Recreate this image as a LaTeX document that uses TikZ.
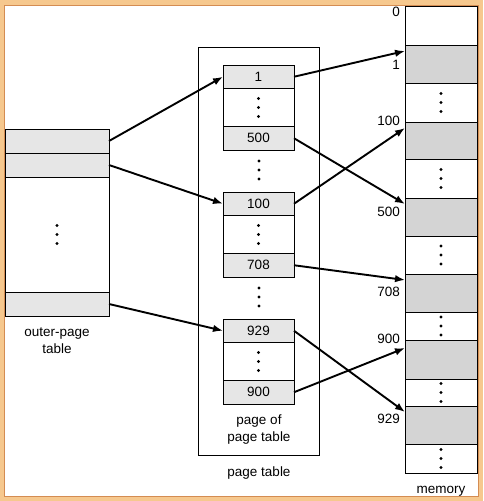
\documentclass[tikz,border=0pt]{standalone}
\usepackage{fontspec}
\setmainfont{Liberation Sans}
\usetikzlibrary{positioning,arrows.meta}
\definecolor{framelight}{RGB}{246,200,142}
\definecolor{framedark}{RGB}{212,140,82}
\definecolor{entrygray}{RGB}{230,230,230}
\definecolor{memgray}{RGB}{212,212,212}
\newcommand{\threedots}[1]{\fill (#1) circle (1.6pt) ++(0,-9pt) circle (1.6pt) ++(0,18pt) circle (1.6pt);}

\begin{document}
\begin{tikzpicture}[x=1pt, y=-1pt, font=\fontsize{13.5}{17}\selectfont,
    box/.style={draw, line width=1pt, inner sep=0pt, outer sep=0pt},
    outer/.style={box, minimum width=104pt, minimum height=24pt},
    entry/.style={box, minimum width=71pt, minimum height=23.5pt},
    mem/.style={box, minimum width=72pt},
    addr/.style={anchor=east, inner sep=0pt},
    arr/.style={-{Latex[length=10pt,width=7.5pt]}, line width=1.9pt}]
      \useasboundingbox (0,0) rectangle (483,501);
      \fill [framelight] (0,0) rectangle (483,501);
      \filldraw [fill=white, draw=framedark, line width=1pt] (4,5) rectangle (478,496);

      \node (o1) [outer, fill=entrygray, anchor=north west] at (5,129) {};
      \node (o2) [outer, fill=entrygray, below=0pt of o1] {};
      \node (o3) [outer, minimum height=115pt, below=0pt of o2] {};
      \node (o4) [outer, fill=entrygray, below=0pt of o3] {};
      \node (ol) [align=center] at (57,341) {outer-page\\table};

      \node (pt) [box, minimum width=121pt, minimum height=408pt, anchor=north west] at (198,47) {};
      \node (p1) [entry, fill=entrygray, anchor=north west] at (223,65) {1};
      \node (p2) [entry, minimum height=38pt, below=0pt of p1] {};
      \node (p3) [entry, fill=entrygray, below=0pt of p2] {500};
      \node (q1) [entry, fill=entrygray, anchor=north west] at (223,192) {100};
      \node (q2) [entry, minimum height=38pt, below=0pt of q1] {};
      \node (q3) [entry, fill=entrygray, below=0pt of q2] {708};
      \node (r1) [entry, fill=entrygray, anchor=north west] at (223,319) {929};
      \node (r2) [entry, minimum height=38pt, below=0pt of r1] {};
      \node (r3) [entry, fill=entrygray, below=0pt of r2] {900};
      \node (pl) [align=center] at (259,430) {page of\\page table};
      \node (ptl) at (259,473) {page table};

      \node (m1) [mem, minimum height=39pt, anchor=north west] at (405,6) {};
      \node (m2) [mem, fill=memgray, minimum height=38pt, below=0pt of m1] {};
      \node (m3) [mem, minimum height=39pt, below=0pt of m2] {};
      \node (m4) [mem, fill=memgray, minimum height=37pt, below=0pt of m3] {};
      \node (m5) [mem, minimum height=39pt, below=0pt of m4] {};
      \node (m6) [mem, fill=memgray, minimum height=38pt, below=0pt of m5] {};
      \node (m7) [mem, minimum height=38pt, below=0pt of m6] {};
      \node (m8) [mem, fill=memgray, minimum height=38pt, below=0pt of m7] {};
      \node (m9) [mem, minimum height=28pt, below=0pt of m8] {};
      \node (m10) [mem, fill=memgray, minimum height=39pt, below=0pt of m9] {};
      \node (m11) [mem, minimum height=27pt, below=0pt of m10] {};
      \node (m12) [mem, fill=memgray, minimum height=38pt, below=0pt of m11] {};
      \node (m13) [mem, minimum height=29pt, below=0pt of m12] {};
      \node (ml) at (441,491) {memory};

      \node (a0) [addr] at (400,12) {0};
      \node (a1) [addr] at (400,65) {1};
      \node (a100) [addr] at (400,121) {100};
      \node (a500) [addr] at (400,212) {500};
      \node (a708) [addr] at (400,292) {708};
      \node (a900) [addr] at (400,339) {900};
      \node (a929) [addr] at (400,419) {929};

      \threedots{o3.center}
      \threedots{p2.center}
      \threedots{q2.center}
      \threedots{r2.center}
      \threedots{259,170}
      \threedots{259,297}
      \threedots{m3.center}
      \threedots{m5.center}
      \threedots{m7.center}
      \threedots{m9.center}
      \threedots{m11.center}
      \threedots{m13.center}

    \draw [arr] (o1.east) to (p1.west);
    \draw [arr] (o2.east) to (q1.west);
    \draw [arr] (o4.east) to (r1.west);
    \draw [arr] (p1.east) to ([yshift=-6pt]m2.north west);
    \draw [arr] (p3.east) to ([yshift=-6pt]m6.north west);
    \draw [arr] (q1.east) to ([yshift=-6pt]m4.north west);
    \draw [arr] (q3.east) to ([yshift=-6pt]m8.north west);
    \draw [arr] (r1.east) to ([yshift=-6pt]m12.north west);
    \draw [arr] (r3.east) to ([yshift=-8pt]m10.north west);
\end{tikzpicture}
\end{document}
